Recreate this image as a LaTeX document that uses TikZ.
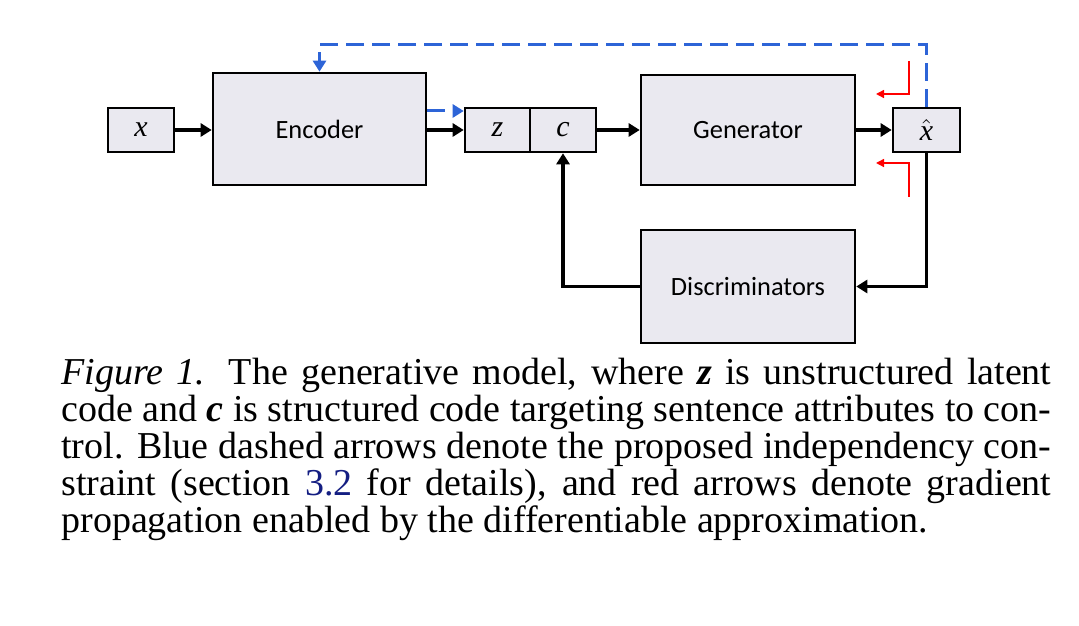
\documentclass[tikz,border=0pt]{standalone}
\usepackage{fontspec}
\setmainfont{Liberation Serif}
\newfontfamily\diafont{Carlito}
\usetikzlibrary{arrows.meta}
\definecolor{boxfill}{RGB}{234,233,240}
\definecolor{dashblue}{RGB}{45,100,215}
\definecolor{refblue}{RGB}{20,30,130}
\newcommand{\varsym}[1]{{\rmfamily\fontsize{15}{17}\selectfont\textit{#1}}}

\begin{document}
\begin{tikzpicture}[x=0.5pt,y=-0.5pt,
  block/.style={draw,line width=1.3pt,fill=boxfill,inner sep=0pt,font=\diafont\fontsize{13.2}{15}\selectfont},
  conn/.style={line width=1.6pt,-{Triangle[length=5.5pt,width=6.5pt]}},
  indep/.style={dashblue,line width=1.5pt,dash pattern=on 9pt off 4pt,-{Triangle[length=5.5pt,width=6.5pt]}},
  grad/.style={red,line width=0.7pt,-{Triangle[length=4pt,width=4pt]}}]
  \useasboundingbox (0,0) rectangle (1079,625);

  \node[block,minimum width=33pt,minimum height=22pt] (x) at (141,130) {\varsym{x}};
  \node[block,minimum width=106.5pt,minimum height=56pt] (enc) at (319.5,129) {Encoder};
  \node[block,minimum width=32.5pt,minimum height=22pt] (z) at (497.5,130) {\varsym{z}};
  \node[block,minimum width=33pt,minimum height=22pt] (c) at (563,130) {\varsym{c}};
  \node[block,minimum width=107pt,minimum height=55pt] (gen) at (748,130) {Generator};
  \node[block,minimum width=33.5pt,minimum height=22pt] (xhat) at (926.5,130)
    {\varsym{$\hat{\hbox{\varsym{x}}}$}};
  \node[block,minimum width=107pt,minimum height=56.5pt] (dis) at (748,286.5) {Discriminators};

  \coordinate (top) at (0,45);
  \coordinate (gin1) at (909,61);
  \coordinate (gout1) at (876,94);
  \coordinate (gin2) at (909,197);
  \coordinate (gout2) at (876,163);

  % main flow
  \draw[conn] (x) -- (x -| enc.west);
  \draw[conn] (enc.east |- z) -- (z.west);
  \draw[conn] (c) -- (gen);
  \draw[conn] (gen) -- (xhat);
  \draw[conn] (xhat.south) |- (dis.east);
  \draw[conn] (dis.west) -| (c.south);

  % independency constraint
  \draw[indep] ([yshift=9pt]enc.east) -- ([yshift=9pt]enc.east -| z.west);
  \draw[indep] (xhat.north) |- (enc.north |- top) -- (enc.north);

  % gradient propagation
  \draw[grad] (gin1) |- (gout1);
  \draw[grad] (gin2) |- (gout2);

  \node[anchor=north west,inner sep=0pt,text width=495pt,align=justify,
    font=\fontsize{19}{18.5}\selectfont] (cap) at (61,358)
    {\textit{Figure 1.} The generative model, where \textbf{\textit{z}} is unstructured latent\linebreak
     code and \textbf{\textit{c}} is structured code targeting sentence attributes to con-\linebreak
     trol. Blue dashed arrows denote the proposed independency con-\linebreak
     straint (section \textcolor{refblue}{3.2} for details), and red arrows denote gradient\linebreak
     propagation enabled by the differentiable approximation.};
\end{tikzpicture}
\end{document}
